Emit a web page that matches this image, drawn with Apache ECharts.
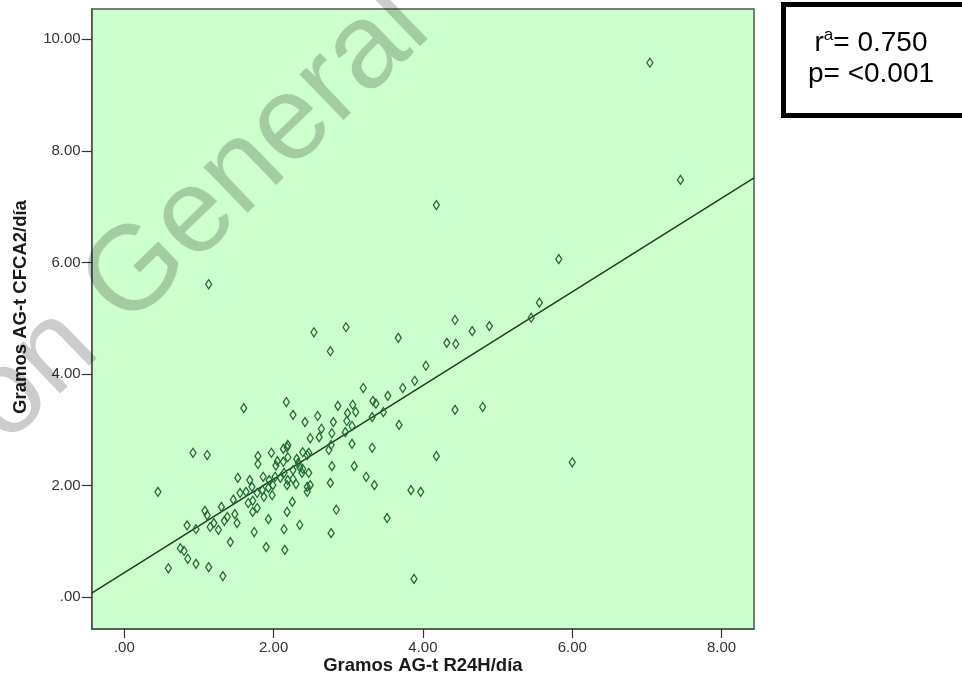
<!DOCTYPE html>
<html>
<head>
<meta charset="utf-8">
<script src="https://cdn.jsdelivr.net/npm/echarts@6/dist/echarts.min.js"></script>
<style>html,body{margin:0;padding:0;background:#fff}#c{width:962px;height:694px}</style>
</head>
<body>
<div id="c"></div>
<script>
// Data
var xValues = [
  7.04, 7.45, 4.18, 5.82, 1.13, 5.56, 5.45, 6.00,
  2.97, 3.67, 4.43, 4.66, 4.89, 4.32, 4.44, 4.04, 3.89, 3.73, 3.53, 3.20, 3.33, 3.37, 3.47, 3.32, 3.06, 3.10, 2.99, 2.98, 3.05, 2.96, 3.68, 4.43, 4.80, 3.05, 3.32, 4.18, 3.08, 3.24, 3.35, 3.84, 3.97, 3.52, 3.88,
  2.54, 2.76, 1.60, 2.17, 2.26, 2.42, 2.59, 2.86, 2.80, 0.92, 1.11, 0.45, 2.64, 2.61, 2.78, 2.49, 2.18, 1.79, 1.79, 1.97, 2.13, 2.19, 2.19, 2.31, 2.39, 2.47, 2.74, 2.77, 2.78, 1.52, 2.03, 2.02, 2.14, 2.26, 2.33, 2.39, 2.47, 2.18, 2.30, 2.49, 2.45, 2.76, 1.46, 1.55, 1.63, 1.71, 1.78, 1.85, 1.87, 1.93, 1.98, 1.99, 1.66, 1.72, 1.78, 1.08, 1.11, 1.30, 1.38, 1.48, 1.51, 1.34, 1.15, 1.26, 1.20, 0.84, 0.96, 2.25, 2.18, 1.93, 2.35, 2.14, 1.74, 1.42, 1.90, 2.15, 2.84, 2.77, 0.75, 0.80, 0.85, 0.96, 1.13, 0.59, 1.32,
  2.45, 2.05, 2.13, 2.35, 2.38, 2.19, 2.26, 2.09, 1.94, 1.86, 1.68, 2.45, 1.72
];
var yValues = [
  9.58, 7.48, 7.03, 6.06, 5.61, 5.28, 5.01, 2.42,
  4.84, 4.65, 4.97, 4.77, 4.86, 4.56, 4.54, 4.15, 3.88, 3.75, 3.61, 3.75, 3.52, 3.47, 3.32, 3.23, 3.45, 3.32, 3.30, 3.16, 3.07, 2.96, 3.09, 3.36, 3.41, 2.75, 2.68, 2.53, 2.35, 2.16, 2.01, 1.92, 1.89, 1.42, 0.33,
  4.75, 4.41, 3.39, 3.50, 3.27, 3.14, 3.25, 3.43, 3.14, 2.59, 2.55, 1.89, 3.02, 2.87, 2.94, 2.85, 2.69, 2.53, 2.39, 2.59, 2.66, 2.73, 2.51, 2.48, 2.60, 2.59, 2.64, 2.73, 2.35, 2.14, 2.36, 2.16, 2.23, 2.28, 2.41, 2.30, 2.23, 2.01, 2.03, 2.01, 1.89, 2.05, 1.75, 1.87, 1.89, 1.98, 1.87, 1.92, 1.80, 1.96, 1.83, 2.01, 1.69, 1.53, 1.60, 1.55, 1.47, 1.62, 1.44, 1.49, 1.33, 1.37, 1.26, 1.21, 1.33, 1.29, 1.22, 1.71, 1.53, 1.40, 1.30, 1.22, 1.17, 0.99, 0.90, 0.85, 1.57, 1.15, 0.88, 0.83, 0.69, 0.60, 0.54, 0.52, 0.38,
  2.55, 2.44, 2.43, 2.33, 2.23, 2.10, 2.12, 2.14, 2.10, 2.16, 2.10, 1.98, 1.73
];
var xTicks = [0, 2, 4, 6, 8];
var yTicks = [0, 2, 4, 6, 8, 10];
var fitIntercept = 0.44;
var fitSlope = 0.839;
var xName = 'Gramos AG-t R24H/día';
var yName = 'Gramos AG-t CFCA2/día';
var statLine1 = '= 0.750';
var statLine2 = 'p= <0.001';
var watermarkText = 'on General';

var xMin = -0.437, xMax = 8.435, yMin = -0.568, yMax = 10.543;

var points = xValues.map(function (x, i) { return [x, yValues[i]]; });
var fitLine = [[xMin, fitIntercept + fitSlope * xMin], [xMax, fitIntercept + fitSlope * xMax]];

function fmt(v) { return v === 0 ? '.00' : v.toFixed(2); }

var chart = echarts.init(document.getElementById('c'));
chart.setOption({
  animation: false,
  backgroundColor: '#ffffff',
  grid: {
    left: 91.7, top: 9, right: 208, bottom: 65,
    show: true, backgroundColor: '#ccffcc', borderColor: '#4a5a4e', borderWidth: 1.5
  },
  xAxis: {
    type: 'value', min: xMin, max: xMax,
    name: xName, nameLocation: 'middle', nameGap: 27, nameMoveOverlap: false,
    nameTextStyle: { fontFamily: 'Liberation Sans', fontWeight: 'bold', fontSize: 18.5, color: '#1a1a1a' },
    axisLine: { show: true, onZero: false, lineStyle: { color: '#4a5a4e', width: 1.5 } },
    axisTick: { show: true, customValues: xTicks, length: 9, lineStyle: { color: '#333', width: 1.2 } },
    axisLabel: { customValues: xTicks, formatter: fmt, fontFamily: 'Liberation Sans', fontSize: 15, color: '#333', margin: 11 },
    splitLine: { show: false }
  },
  yAxis: {
    type: 'value', min: yMin, max: yMax,
    name: yName, nameLocation: 'middle', nameGap: 61, nameRotate: 90, nameMoveOverlap: false,
    nameTextStyle: { fontFamily: 'Liberation Sans', fontWeight: 'bold', fontSize: 18.5, color: '#1a1a1a', padding: [0, 0, 0, 24] },
    axisLine: { show: true, onZero: false, lineStyle: { color: '#4a5a4e', width: 1.5 } },
    axisTick: { show: true, customValues: yTicks, length: 10, lineStyle: { color: '#333', width: 1.2 } },
    axisLabel: { customValues: yTicks, formatter: fmt, fontFamily: 'Liberation Sans', fontSize: 15, color: '#333', margin: 11 },
    splitLine: { show: false }
  },
  series: [
    {
      type: 'line', data: fitLine, symbol: 'none', silent: true,
      lineStyle: { color: '#1c3a26', width: 1.4 }, z: 2
    },
    {
      type: 'scatter', data: points, symbol: 'diamond', symbolSize: [6, 9],
      itemStyle: { color: 'rgba(0,0,0,0)', borderColor: '#22683a', borderWidth: 1.3, opacity: 1 },
      z: 3
    }
  ],
  graphic: [
    {
      type: 'rect', shape: { x: 783.5, y: 4.5, width: 200, height: 111 },
      style: { fill: '#ffffff', stroke: '#000000', lineWidth: 5 }, z: 10
    },
    {
      type: 'text', x: 871, y: 43, z: 11,
      style: {
        text: '{r|r}{s|a}{r|' + statLine1 + '}', align: 'center', verticalAlign: 'middle',
        rich: {
          r: { fontFamily: 'Liberation Sans', fontSize: 28, color: '#000', lineHeight: 32 },
          s: { fontFamily: 'Liberation Sans', fontSize: 17, color: '#000', verticalAlign: 'top', lineHeight: 32, padding: [0, 0, 12, 0] }
        }
      }
    },
    {
      type: 'text', x: 871, y: 74, z: 11,
      style: { text: statLine2, fontFamily: 'Liberation Sans', fontSize: 28, fill: '#000', align: 'center', verticalAlign: 'middle' }
    },
    {
      type: 'text', x: 25, y: 465, rotation: 44 * Math.PI / 180, z: 100, silent: true,
      style: { text: watermarkText, fontFamily: 'Liberation Sans', fontSize: 120, fill: 'rgba(0,0,0,0.2)', align: 'left', verticalAlign: 'bottom' }
    }
  ]
});
</script>
</body>
</html>
